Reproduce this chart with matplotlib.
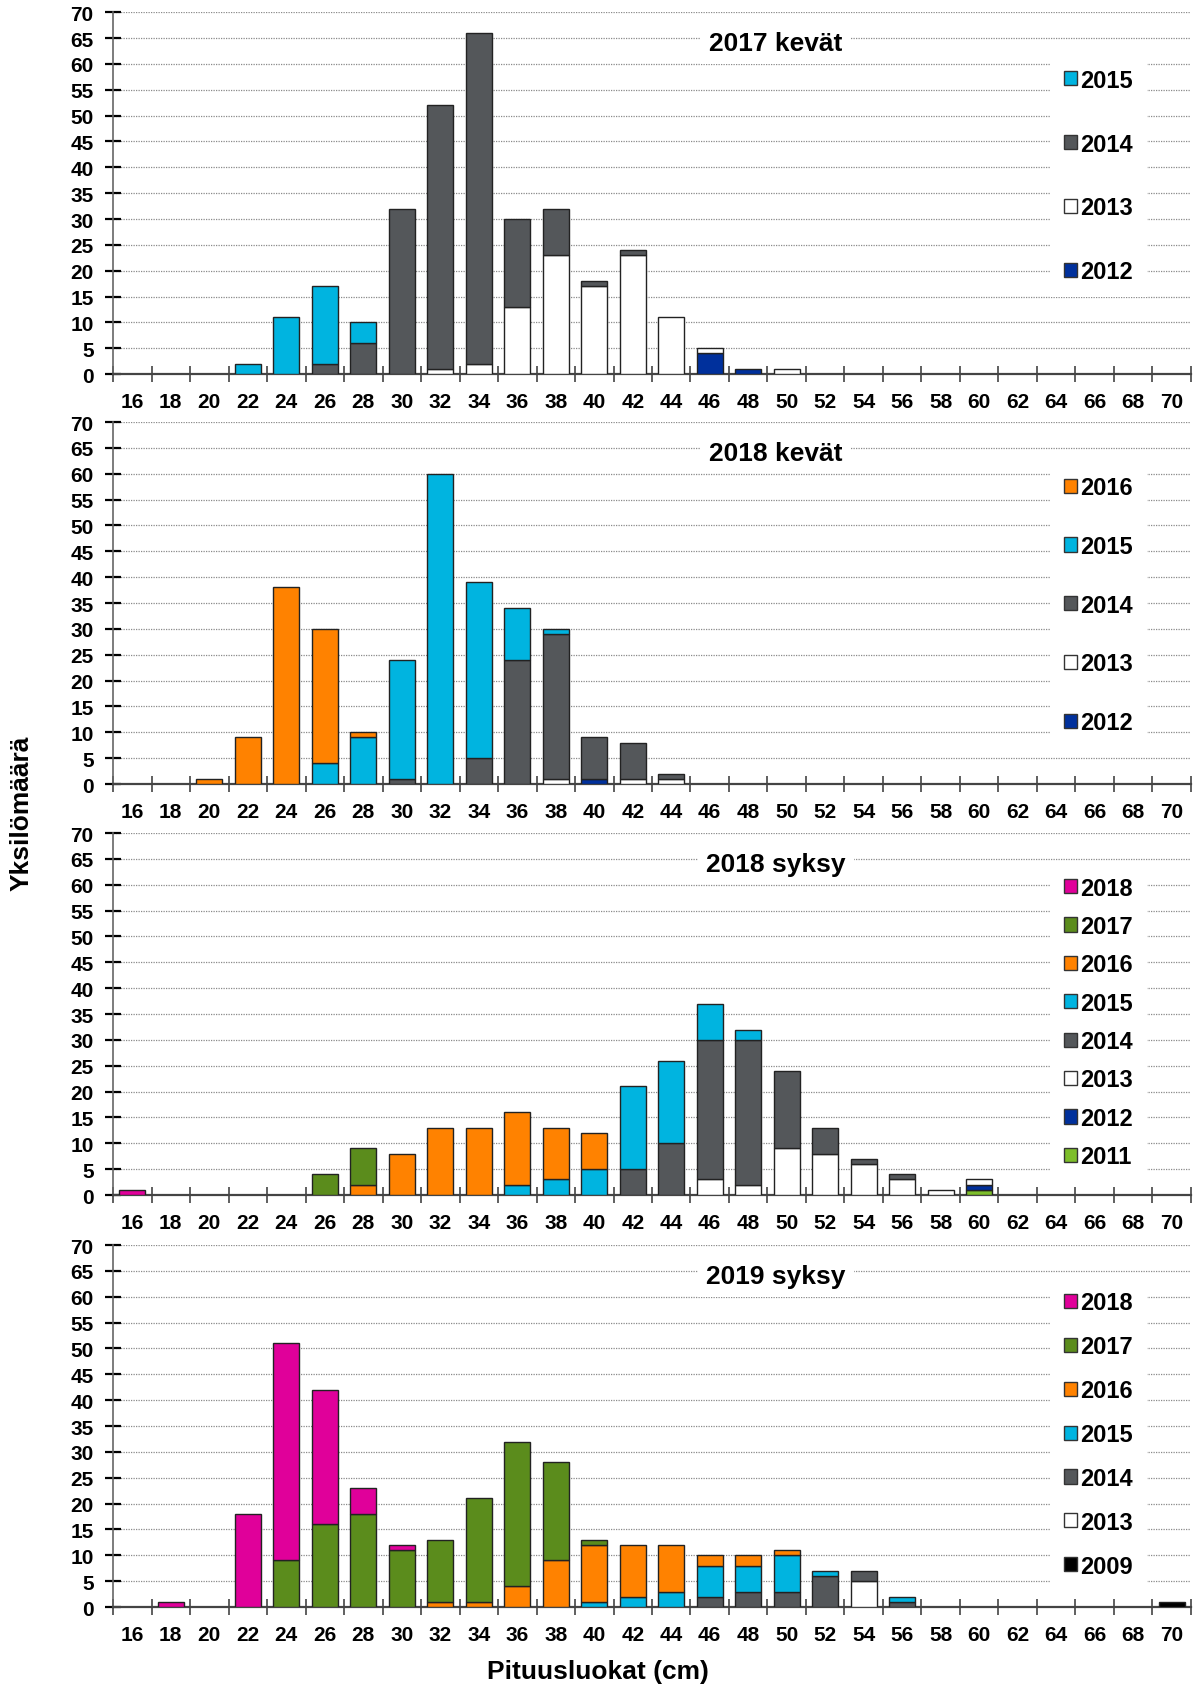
import numpy as np
import matplotlib
matplotlib.use('Agg')
from matplotlib import pyplot as plt
from matplotlib.patches import Patch

plt.rcParams['font.family'] = ['Liberation Sans', 'DejaVu Sans']
plt.rcParams['font.weight'] = 'bold'

# length classes (cm)
classes = ['16', '18', '20', '22', '24', '26', '28', '30', '32', '34', '36', '38', '40', '42',
           '44', '46', '48', '50', '52', '54', '56', '58', '60', '62', '64', '66', '68', '70']

# counts per year class, one list per length class column
#            16 18 20 22 24 26 28 30 32 34 36 38 40 42 44 46 48 50 52 54 56 58 60 62 64 66 68 70
k17_2012 = [0, 0, 0, 0, 0, 0, 0, 0, 0, 0, 0, 0, 0, 0, 0, 4, 1, 0, 0, 0, 0, 0, 0, 0, 0, 0, 0, 0]
k17_2013 = [0, 0, 0, 0, 0, 0, 0, 0, 1, 2, 13, 23, 17, 23, 11, 1, 0, 1, 0, 0, 0, 0, 0, 0, 0, 0, 0, 0]
k17_2014 = [0, 0, 0, 0, 0, 2, 6, 32, 51, 64, 17, 9, 1, 1, 0, 0, 0, 0, 0, 0, 0, 0, 0, 0, 0, 0, 0, 0]
k17_2015 = [0, 0, 0, 2, 11, 15, 4, 0, 0, 0, 0, 0, 0, 0, 0, 0, 0, 0, 0, 0, 0, 0, 0, 0, 0, 0, 0, 0]

k18_2012 = [0, 0, 0, 0, 0, 0, 0, 0, 0, 0, 0, 0, 1, 0, 0, 0, 0, 0, 0, 0, 0, 0, 0, 0, 0, 0, 0, 0]
k18_2013 = [0, 0, 0, 0, 0, 0, 0, 0, 0, 0, 0, 1, 0, 1, 1, 0, 0, 0, 0, 0, 0, 0, 0, 0, 0, 0, 0, 0]
k18_2014 = [0, 0, 0, 0, 0, 0, 0, 1, 0, 5, 24, 28, 8, 7, 1, 0, 0, 0, 0, 0, 0, 0, 0, 0, 0, 0, 0, 0]
k18_2015 = [0, 0, 0, 0, 0, 4, 9, 23, 60, 34, 10, 1, 0, 0, 0, 0, 0, 0, 0, 0, 0, 0, 0, 0, 0, 0, 0, 0]
k18_2016 = [0, 0, 1, 9, 38, 26, 1, 0, 0, 0, 0, 0, 0, 0, 0, 0, 0, 0, 0, 0, 0, 0, 0, 0, 0, 0, 0, 0]

s18_2011 = [0, 0, 0, 0, 0, 0, 0, 0, 0, 0, 0, 0, 0, 0, 0, 0, 0, 0, 0, 0, 0, 0, 1, 0, 0, 0, 0, 0]
s18_2012 = [0, 0, 0, 0, 0, 0, 0, 0, 0, 0, 0, 0, 0, 0, 0, 0, 0, 0, 0, 0, 0, 0, 1, 0, 0, 0, 0, 0]
s18_2013 = [0, 0, 0, 0, 0, 0, 0, 0, 0, 0, 0, 0, 0, 0, 0, 3, 2, 9, 8, 6, 3, 1, 1, 0, 0, 0, 0, 0]
s18_2014 = [0, 0, 0, 0, 0, 0, 0, 0, 0, 0, 0, 0, 0, 5, 10, 27, 28, 15, 5, 1, 1, 0, 0, 0, 0, 0, 0, 0]
s18_2015 = [0, 0, 0, 0, 0, 0, 0, 0, 0, 0, 2, 3, 5, 16, 16, 7, 2, 0, 0, 0, 0, 0, 0, 0, 0, 0, 0, 0]
s18_2016 = [0, 0, 0, 0, 0, 0, 2, 8, 13, 13, 14, 10, 7, 0, 0, 0, 0, 0, 0, 0, 0, 0, 0, 0, 0, 0, 0, 0]
s18_2017 = [0, 0, 0, 0, 0, 4, 7, 0, 0, 0, 0, 0, 0, 0, 0, 0, 0, 0, 0, 0, 0, 0, 0, 0, 0, 0, 0, 0]
s18_2018 = [1, 0, 0, 0, 0, 0, 0, 0, 0, 0, 0, 0, 0, 0, 0, 0, 0, 0, 0, 0, 0, 0, 0, 0, 0, 0, 0, 0]

s19_2009 = [0, 0, 0, 0, 0, 0, 0, 0, 0, 0, 0, 0, 0, 0, 0, 0, 0, 0, 0, 0, 0, 0, 0, 0, 0, 0, 0, 1]
s19_2013 = [0, 0, 0, 0, 0, 0, 0, 0, 0, 0, 0, 0, 0, 0, 0, 0, 0, 0, 0, 5, 0, 0, 0, 0, 0, 0, 0, 0]
s19_2014 = [0, 0, 0, 0, 0, 0, 0, 0, 0, 0, 0, 0, 0, 0, 0, 2, 3, 3, 6, 2, 1, 0, 0, 0, 0, 0, 0, 0]
s19_2015 = [0, 0, 0, 0, 0, 0, 0, 0, 0, 0, 0, 0, 1, 2, 3, 6, 5, 7, 1, 0, 1, 0, 0, 0, 0, 0, 0, 0]
s19_2016 = [0, 0, 0, 0, 0, 0, 0, 0, 1, 1, 4, 9, 11, 10, 9, 2, 2, 1, 0, 0, 0, 0, 0, 0, 0, 0, 0, 0]
s19_2017 = [0, 0, 0, 0, 9, 16, 18, 11, 12, 20, 28, 19, 1, 0, 0, 0, 0, 0, 0, 0, 0, 0, 0, 0, 0, 0, 0, 0]
s19_2018 = [0, 1, 0, 18, 42, 26, 5, 1, 0, 0, 0, 0, 0, 0, 0, 0, 0, 0, 0, 0, 0, 0, 0, 0, 0, 0, 0, 0]

colors = {'2009': '#000000', '2011': '#7DBE2A', '2012': '#00309C', '2013': '#FFFFFF',
          '2014': '#54575A', '2015': '#00B4E0', '2016': '#FF8200', '2017': '#5B8C1C',
          '2018': '#E0009A'}

# (title, series bottom->top, legend anchor top, legend labelspacing, axes rect bottom)
panels = [
    ('2017 kevät', [('2012', k17_2012), ('2013', k17_2013), ('2014', k17_2014), ('2015', k17_2015)],
     0.883, 1.73, 0.778),
    ('2018 kevät', [('2012', k18_2012), ('2013', k18_2013), ('2014', k18_2014), ('2015', k18_2015),
                    ('2016', k18_2016)],
     0.890, 1.516, 0.5355),
    ('2018 syksy', [('2011', s18_2011), ('2012', s18_2012), ('2013', s18_2013), ('2014', s18_2014),
                    ('2015', s18_2015), ('2016', s18_2016), ('2017', s18_2017), ('2018', s18_2018)],
     0.919, 0.652, 0.2923),
    ('2019 syksy', [('2009', s19_2009), ('2013', s19_2013), ('2014', s19_2014), ('2015', s19_2015),
                    ('2016', s19_2016), ('2017', s19_2017), ('2018', s19_2018)],
     0.911, 0.883, 0.0485),
]

fig = plt.figure(figsize=(11.96, 16.90), dpi=100)
x = np.arange(len(classes))

for title, series, leg_top, leg_space, ax_bottom in panels:
    ax = fig.add_axes([0.0945, ax_bottom, 0.9013, 0.2142])
    base = np.zeros(len(classes))
    for year, vals in series:
        vals = np.array(vals, dtype=float)
        m = vals > 0
        ax.bar(x[m], vals[m], width=0.68, bottom=base[m], color=colors[year],
               edgecolor='#222222', linewidth=1.0, zorder=3)
        base += vals

    ax.set_xlim(-0.5, len(classes) - 0.5)
    ax.set_ylim(0, 70)
    ax.set_yticks(np.arange(0, 75, 5))
    ax.yaxis.grid(True, color='#8a8a8a', linestyle=(0, (1, 1)), linewidth=0.9, zorder=0)
    ax.set_axisbelow(True)

    ax.set_xticks(x)
    ax.set_xticklabels(classes)
    ax.set_xticks(np.arange(len(classes) + 1) - 0.5, minor=True)
    ax.tick_params(axis='x', which='major', length=0, pad=12.7, labelsize=15)
    ax.tick_params(axis='x', which='minor', direction='inout', length=12, width=1.2, color='#444444')
    ax.tick_params(axis='y', direction='inout', length=12, width=1.6, color='black',
                   labelsize=15, pad=8)

    for s in ['top', 'right']:
        ax.spines[s].set_visible(False)
    ax.spines['left'].set_color('#666666')
    ax.spines['left'].set_linewidth(1.2)
    ax.spines['bottom'].set_color('#444444')
    ax.spines['bottom'].set_linewidth(1.6)

    ax.text(0.615, 64.0, title, transform=ax.get_yaxis_transform(), ha='center', va='center',
            fontsize=19, fontweight='bold', zorder=6,
            bbox=dict(facecolor='white', edgecolor='none', pad=6))

    handles = [Patch(facecolor=colors[y], edgecolor='#333333', linewidth=1.0) for y, _ in series][::-1]
    labels = [y for y, _ in series][::-1]
    leg = ax.legend(handles, labels, loc='upper left', bbox_to_anchor=(0.869, leg_top),
                    frameon=True, facecolor='white', edgecolor='none', framealpha=1,
                    fontsize=17, handlelength=0.55, handleheight=0.55, handletextpad=0.15,
                    labelspacing=leg_space, borderpad=0.6, borderaxespad=0, fancybox=False)
    leg.set_zorder(6)

fig.text(0.5, 0.0107, 'Pituusluokat (cm)', ha='center', va='center', fontsize=19, fontweight='bold')
fig.text(0.018, 0.519, 'Yksilömäärä', ha='center', va='center', rotation=90,
         fontsize=19, fontweight='bold')

fig.savefig('out.png', dpi=100)
